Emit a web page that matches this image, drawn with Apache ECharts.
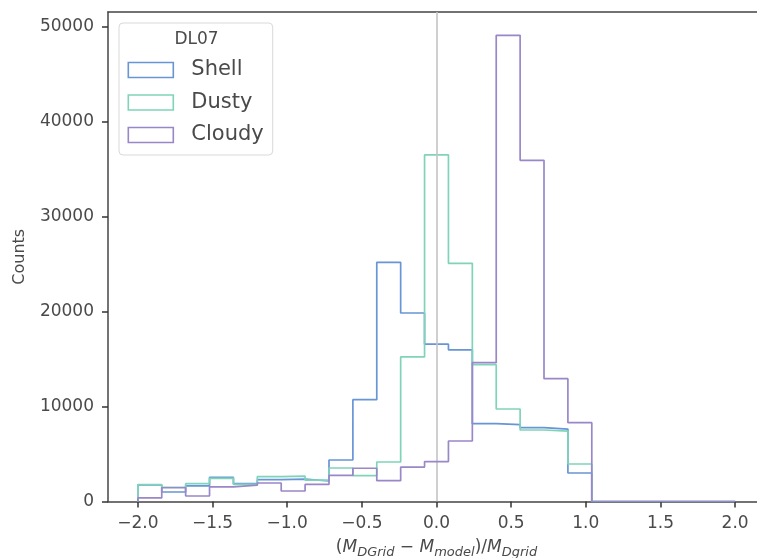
<!DOCTYPE html>
<html>
<head>
<meta charset="utf-8">
<script src="https://cdn.jsdelivr.net/npm/echarts@6/dist/echarts.min.js"></script>
<style>html,body{margin:0;padding:0;background:#fff}#c{width:757px;height:558px}</style>
</head>
<body>
<div id="c"></div>
<script>
// Bin edges (25 bins from -2.0 to 2.0)
const binEdges = [-2.0,-1.84,-1.68,-1.52,-1.36,-1.2,-1.04,-0.88,-0.72,-0.56,-0.4,-0.24,-0.08,0.08,0.24,0.4,0.56,0.72,0.88,1.04,1.2,1.36,1.52,1.68,1.84,2.0];
// Counts per bin
const shell  = [1750,1000,1650,2530,1880,2300,2350,2160,4370,10720,25190,19850,16570,15970,8200,8090,7780,7630,3000,0,0,0,0,0,0];
const dusty  = [1770,1500,1875,2440,1800,2610,2670,2260,3530,2720,4160,15220,36490,25080,14410,9740,7530,7420,3950,0,0,0,0,0,0];
const cloudy = [380,1450,580,1550,1720,1950,1105,1800,2760,3500,2190,3630,4200,6370,14620,49090,35930,12930,8300,0,0,0,0,0,0];
const seriesNames = ['Shell','Dusty','Cloudy'];
const xTicks = [-2.0,-1.5,-1.0,-0.5,0.0,0.5,1.0,1.5,2.0];
const yTicks = [0,10000,20000,30000,40000,50000];
const legendTitle = 'DL07';

const colors = ['#6795d6','#7fd3b9','#9a87c8'];

function stepOutline(edges, counts){
  const pts = [[edges[0], 0]];
  for (let i = 0; i < counts.length; i++){
    pts.push([edges[i], counts[i]]);
    pts.push([edges[i+1], counts[i]]);
  }
  pts.push([edges[edges.length-1], 0]);
  return pts;
}

const allCounts = [shell, dusty, cloudy];
const series = allCounts.map((c, i) => ({
  name: seriesNames[i],
  type: 'line',
  xAxisIndex: 0,
  data: stepOutline(binEdges, c),
  showSymbol: false,
  symbol: 'none',
  silent: true,
  animation: false,
  itemStyle: { color: colors[i] },
  lineStyle: { color: colors[i], width: 1.7 },
  z: 3 + i
}));
series[0].markLine = {
  silent: true, symbol: 'none', animation: false,
  label: { show: false },
  lineStyle: { color: '#c4c4c4', width: 1.6, type: 'solid' },
  data: [{ xAxis: 0 }]
};

const chart = echarts.init(document.getElementById('c'), null, {renderer: 'canvas'});
const font = 'DejaVu Sans';
const txt = '#4a4a4a';
chart.setOption({
  animation: false,
  backgroundColor: '#fff',
  grid: { left: 108, top: 12, width: 657, height: 489.5, outerBoundsMode: 'none', containLabel: false, show: false },
  xAxis: [{
    type: 'value', min: -2.2, max: 2.2,
    axisLine: { show: true, onZero: false, lineStyle: { color: '#444', width: 1.5 } },
    axisTick: { show: true, length: 6, customValues: xTicks, lineStyle: { color: '#333', width: 1.5 } },
    axisLabel: { customValues: xTicks, margin: 13.5, color: txt, fontFamily: font, fontSize: 17,
      formatter: v => (v < 0 ? '\u2212' : '') + Math.abs(v).toFixed(1) },
    splitLine: { show: false },
    name: '{p|(}{m|M}{s|DGrid}{p| \u2212 }{m|M}{s|model}{p|)/}{m|M}{s|Dgrid}',
    nameLocation: 'middle', nameGap: 34,
    nameTextStyle: {
      color: txt, fontFamily: font,
      rich: {
        p: { fontSize: 17, fontFamily: font, color: txt, lineHeight: 24, verticalAlign: 'middle' },
        m: { fontSize: 17, fontFamily: font, fontStyle: 'italic', color: txt, lineHeight: 24, verticalAlign: 'middle' },
        s: { fontSize: 13, fontFamily: font, fontStyle: 'italic', color: txt, lineHeight: 13, verticalAlign: 'bottom' }
      }
    }
  }, {
    type: 'value', position: 'top', min: -2.2, max: 2.2,
    axisLine: { show: true, onZero: false, lineStyle: { color: '#444', width: 1.5 } },
    axisTick: { show: false }, axisLabel: { show: false }, splitLine: { show: false }
  }],
  yAxis: {
    type: 'value', min: 0, max: 51545,
    axisLine: { show: true, onZero: false, lineStyle: { color: '#444', width: 1.5 } },
    axisTick: { show: true, length: 6, customValues: yTicks, lineStyle: { color: '#333', width: 1.5 } },
    axisLabel: { customValues: yTicks, margin: 14, color: txt, fontFamily: font, fontSize: 17,
      formatter: v => String(Math.round(v)) },
    splitLine: { show: false },
    name: 'Counts', nameLocation: 'middle', nameRotate: 90, nameGap: 80,
    nameTextStyle: { color: txt, fontFamily: font, fontSize: 16 }
  },
  legend: {
    orient: 'vertical', left: 119, top: 23,
    data: seriesNames.map((n, i) => ({
      name: n, icon: 'rect',
      itemStyle: { color: '#ffffff', borderColor: colors[i], borderWidth: 1.6 }
    })),
    itemWidth: 45, itemHeight: 15, itemGap: 11.5,
    padding: [36.5, 9, 9.5, 8.5],
    backgroundColor: '#fff', borderColor: '#d9d9d9', borderWidth: 1, borderRadius: 4,
    textStyle: { color: txt, fontFamily: font, fontSize: 21, lineHeight: 21, padding: [0, 0, 0, 13] },
    selectedMode: false
  },
  graphic: [{
    type: 'text', z: 100,
    style: { text: legendTitle, x: 196.5, y: 40, align: 'center', verticalAlign: 'middle', font: '17px "DejaVu Sans"', fill: txt }
  }],
  series: series
});
</script>
</body>
</html>
